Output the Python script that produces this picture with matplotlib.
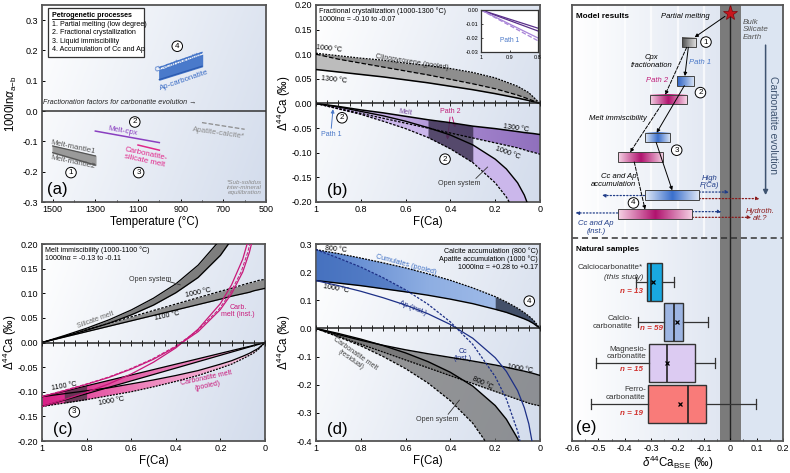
import numpy as np
import matplotlib
matplotlib.use('Agg')
import matplotlib.pyplot as plt
from matplotlib.colors import LinearSegmentedColormap
from matplotlib.path import Path
from matplotlib.patches import Rectangle, FancyBboxPatch
from matplotlib.lines import Line2D
import matplotlib.transforms as mtransforms

plt.rcParams['font.family'] = ['Liberation Sans', 'DejaVu Sans']
plt.rcParams['mathtext.fontset'] = 'custom'
plt.rcParams['mathtext.rm'] = 'Liberation Sans'
plt.rcParams['mathtext.it'] = 'Liberation Sans:italic'
plt.rcParams['mathtext.bf'] = 'Liberation Sans:bold'

# ---------------- DATA ----------------
# (a) fractionation factors vs temperature
a_T_mantle = [1500, 1300]
a_mantle1 = [-0.115, -0.148]
a_mantle2 = [-0.137, -0.178]
a_T_cpx = [1300, 1000]
a_melt_cpx = [-0.066, -0.104]
a_T_carbsil = [1100, 1000]
a_carbsil = [-0.112, -0.129]
a_T_apcc = [800, 600]
a_apcc = [-0.038, -0.060]
a_T_carb = [1000, 800]
a_cc_carb = [0.137, 0.187]
a_ap_carb = [0.104, 0.148]

# (b) fractional crystallization
b_F_top = [1.0, 0.9, 0.8, 0.7, 0.6, 0.5, 0.4, 0.3, 0.2, 0.1, 0.05, 0.0]
b_cpx_1000 = [0.102, 0.097, 0.092, 0.088, 0.082, 0.077, 0.071, 0.063, 0.052, 0.035, 0.022, 0.0]
b_cpx_mid = [0.100, 0.090, 0.082, 0.074, 0.066, 0.058, 0.049, 0.040, 0.030, 0.017, 0.009, 0.0]
b_cpx_1300 = [0.069, 0.064, 0.059, 0.054, 0.048, 0.042, 0.035, 0.028, 0.020, 0.011, 0.006, 0.0]
b_F = [1.0, 0.9, 0.8, 0.7, 0.6, 0.5, 0.4, 0.3, 0.2, 0.15, 0.1, 0.07, 0.05, 0.03, 0.0]
b_melt_1300 = [0, -0.006, -0.013, -0.019, -0.026, -0.033, -0.039, -0.046, -0.051, -0.054, -0.057, -0.059, -0.060, -0.061, -0.063]
b_melt_1000 = [0, -0.010, -0.020, -0.030, -0.040, -0.050, -0.060, -0.070, -0.080, -0.085, -0.090, -0.094, -0.097, -0.099, -0.103]
b_open_1300 = [0, -0.007, -0.016, -0.025, -0.036, -0.049, -0.064, -0.084, -0.113, -0.133, -0.161, -0.186, -0.210, -0.245, -0.400]
b_open_1000 = [0, -0.011, -0.022, -0.036, -0.051, -0.069, -0.092, -0.120, -0.161, -0.190, -0.230, -0.266, -0.300, -0.351, -0.600]
b_in_F = [1.0, 0.9, 0.8]
b_in_melt_a = [0, -0.0065, -0.013]
b_in_melt_b = [0, -0.0075, -0.015]
b_in_open_a = [0, -0.0100, -0.020]
b_in_open_b = [0, -0.0110, -0.022]

# (c) melt immiscibility
c_F = [1.0, 0.9, 0.8, 0.7, 0.6, 0.5, 0.4, 0.3, 0.2, 0.15, 0.1, 0.07, 0.05, 0.03, 0.0]
c_sil_batch_1000 = [0, 0.013, 0.026, 0.039, 0.052, 0.065, 0.078, 0.091, 0.104, 0.110, 0.117, 0.121, 0.123, 0.126, 0.128]
c_sil_batch_1100 = [0, 0.011, 0.022, 0.033, 0.044, 0.055, 0.066, 0.077, 0.088, 0.094, 0.099, 0.102, 0.105, 0.107, 0.110]
c_sil_open_1000 = [0, 0.014, 0.029, 0.046, 0.066, 0.090, 0.119, 0.157, 0.209, 0.247, 0.299, 0.346, 0.389, 0.456, 0.800]
c_sil_open_1100 = [0, 0.012, 0.025, 0.039, 0.056, 0.076, 0.101, 0.132, 0.177, 0.209, 0.253, 0.293, 0.330, 0.386, 0.700]
c_carb_inst_1000 = [-0.130, -0.116, -0.101, -0.084, -0.064, -0.040, -0.011, 0.027, 0.079, 0.117, 0.169, 0.216, 0.259, 0.326, 0.700]
c_carb_inst_1100 = [-0.110, -0.098, -0.085, -0.071, -0.054, -0.034, -0.009, 0.022, 0.067, 0.099, 0.143, 0.183, 0.220, 0.276, 0.600]
c_carb_batch_1000 = [-0.130, -0.117, -0.104, -0.091, -0.078, -0.065, -0.052, -0.039, -0.026, -0.0195, -0.013, -0.009, -0.0065, -0.004, 0]
c_carb_batch_1100 = [-0.110, -0.099, -0.088, -0.077, -0.066, -0.055, -0.044, -0.033, -0.022, -0.0165, -0.011, -0.008, -0.0055, -0.003, 0]
c_carb_pool_1000 = [-0.130, -0.123, -0.116, -0.108, -0.100, -0.090, -0.079, -0.067, -0.052, -0.044, -0.033, -0.026, -0.021, -0.014, 0]
c_carb_pool_1100 = [-0.110, -0.104, -0.098, -0.092, -0.084, -0.076, -0.067, -0.057, -0.044, -0.037, -0.028, -0.022, -0.017, -0.012, 0]

# (d) calcite / apatite accumulation
d_F = [1.0, 0.9, 0.8, 0.7, 0.6, 0.5, 0.4, 0.3, 0.2, 0.15, 0.1, 0.07, 0.05, 0.03, 0.0]
d_cum_800 = [0.280, 0.266, 0.250, 0.233, 0.215, 0.194, 0.171, 0.144, 0.113, 0.094, 0.072, 0.056, 0.044, 0.030, 0]
d_cum_1000 = [0.170, 0.161, 0.152, 0.141, 0.130, 0.118, 0.104, 0.088, 0.068, 0.057, 0.043, 0.034, 0.027, 0.018, 0]
d_cc_inst = [0.280, 0.250, 0.218, 0.180, 0.137, 0.086, 0.023, -0.057, -0.171, -0.251, -0.365, -0.465, -0.559, -0.702, -1.5]
d_ap_inst = [0.170, 0.152, 0.132, 0.109, 0.083, 0.052, 0.014, -0.035, -0.104, -0.153, -0.221, -0.282, -0.339, -0.426, -1.0]
d_res_1000 = [0, -0.022, -0.042, -0.060, -0.076, -0.090, -0.103, -0.116, -0.130, -0.138, -0.147, -0.152, -0.156, -0.160, -0.167]
d_res_800 = [0, -0.028, -0.056, -0.084, -0.112, -0.140, -0.168, -0.196, -0.224, -0.238, -0.252, -0.260, -0.266, -0.270, -0.275]
d_open_1000 = [0, -0.018, -0.038, -0.061, -0.087, -0.118, -0.156, -0.205, -0.274, -0.323, -0.391, -0.452, -0.509, -0.596, -1.5]
d_open_800 = [0, -0.030, -0.062, -0.100, -0.143, -0.194, -0.257, -0.337, -0.451, -0.531, -0.645, -0.745, -0.839, -0.982, -2.0]

# (e) model results (delta44Ca_BSE ranges)
e_box_lo = [-0.182, -0.203, -0.304, -0.325, -0.427, -0.325, -0.427]
e_box_hi = [-0.130, -0.138, -0.165, -0.227, -0.256, -0.118, -0.144]
e_box_y = [91.4, 82.6, 78.3, 69.6, 65.1, 56.4, 52.0]
e_box_kind = ['gray', 'blue0', 'pink', 'blue', 'pink', 'blue', 'pink']
e_p1_x0 = [-0.159, -0.174, -0.281]
e_p1_y0 = [90.3, 81.5, 68.5]
e_p1_x1 = [-0.172, -0.279, -0.220]
e_p1_y1 = [83.7, 70.7, 57.5]
e_p2_x0 = [-0.165, -0.260, -0.364]
e_p2_y0 = [90.3, 77.2, 64.0]
e_p2_x1 = [-0.247, -0.380, -0.323]
e_p2_y1 = [79.4, 66.2, 53.1]
# (e) natural samples
e_labels = ['Calciocarbonatite*', 'Calcio-\ncarbonatite', 'Magnesio-\ncarbonatite', 'Ferro-\ncarbonatite']
e_n = [13, 59, 15, 19]
e_pos = [36.5, 27.3, 17.9, 8.5]
e_q1 = [-0.314, -0.250, -0.307, -0.310]
e_med = [-0.300, -0.213, -0.241, -0.162]
e_q3 = [-0.260, -0.180, -0.134, -0.091]
e_mean = [-0.294, -0.203, -0.241, -0.191]
e_whislo = [-0.357, -0.348, -0.508, -0.528]
e_whishi = [-0.213, -0.084, -0.056, 0.097]
e_colors = ['#19a9e1', '#9db5e2', '#dccbf2', '#f97b79']

# ---------------- HELPERS ----------------
W, H = 790, 473
fig = plt.figure(figsize=(7.9, 4.73), dpi=100)


def add_ax(l, t, r, b):
    return fig.add_axes([l / W, 1 - b / H, (r - l) / W, (b - t) / H])


bg_cmap = LinearSegmentedColormap.from_list('bg', ['#ffffff', '#d3dcec'])
TS = 6.5   # tick size
AS = 5.1   # annotation size
LS = 8.3   # axis label size
PL = 12    # panel label size
YLX = -0.102  # y-label x position (axes fraction, right edge of rotated label)


def background(ax, vert=0.25):
    x0, x1 = ax.get_xlim(); y0, y1 = ax.get_ylim()
    gx = np.linspace(0, 1, 200)[None, :]
    gy = np.linspace(0, 1, 100)[:, None]
    g = (1 - vert) * gx + vert * gy
    ax.imshow(g, extent=[x0, x1, y0, y1], cmap=bg_cmap, aspect='auto',
              origin='upper', zorder=0, interpolation='bilinear')
    ax.set_xlim(x0, x1); ax.set_ylim(y0, y1)


def grad_fill(ax, x, y1, y2, colors, where=None, z=2, alpha=1.0):
    x0, x1 = ax.get_xlim(); ya, yb = ax.get_ylim()
    pc = ax.fill_between(x, y1, y2, where=where, interpolate=True,
                         facecolor='none', edgecolor='none', zorder=z)
    paths = pc.get_paths()
    if len(paths) == 0:
        return
    path = Path.make_compound_path(*paths)
    cmap = LinearSegmentedColormap.from_list('gf', colors)
    im = ax.imshow(np.linspace(0, 1, 256)[None, :], extent=[x0, x1, ya, yb],
                   cmap=cmap, aspect='auto', zorder=z, alpha=alpha,
                   interpolation='bilinear')
    im.set_clip_path(path, transform=ax.transData)
    ax.set_xlim(x0, x1); ax.set_ylim(ya, yb)


def circ(ax, x, y, s, fs=5.8):
    ax.text(x, y, s, ha='center', va='center', fontsize=fs, zorder=20,
            bbox=dict(boxstyle='circle,pad=0.22', fc='white', ec='black', lw=0.7))


def style(ax):
    for sp in ax.spines.values():
        sp.set_color('#555555'); sp.set_linewidth(1.3)
    ax.tick_params(direction='in', length=2.5, width=0.7, labelsize=TS, pad=2.5)


def zero_line(ax):
    ax.axhline(0, color='#222222', lw=1.1, zorder=8)
    ax.plot(np.arange(0, 1.0001, 0.05), np.zeros(21), ls='none', marker='|',
            ms=4, mew=0.7, color='#222222', zorder=8)


def fca_axes(ax):
    ax.set_xticks([1, 0.8, 0.6, 0.4, 0.2, 0], ['1', '0.8', '0.6', '0.4', '0.2', '0'])
    ax.set_xlabel('F(Ca)', fontsize=LS, labelpad=1)
    ax.set_ylabel(r'$\Delta^{44}$Ca (‰)', fontsize=LS)
    ax.yaxis.set_label_coords(YLX, 0.5)


# ---------------- PANEL (a) ----------------
axA = add_ax(42, 5, 266, 202)
axA.set_xlim(1550, 500); axA.set_ylim(-0.3, 0.35)
background(axA)
style(axA)
axA.axhline(0, color='#333333', lw=1.1, zorder=3)
axA.fill_between(a_T_mantle, a_mantle2, a_mantle1, color='#9a9a9a', zorder=2)
axA.plot(a_T_mantle, a_mantle1, color='#555555', lw=0.9, zorder=3)
axA.plot(a_T_mantle, a_mantle2, color='#555555', lw=0.9, zorder=3)
axA.plot(a_T_cpx, a_melt_cpx, color='#8a3fc0', lw=1.1, zorder=3)
axA.plot(a_T_carbsil, a_carbsil, color='#e0288a', lw=1.1, zorder=3)
axA.plot(a_T_apcc, a_apcc, color='#8a8a8a', lw=0.9, ls='--', zorder=3)
axA.fill_between(a_T_carb, a_ap_carb, a_cc_carb, color='#4a7acb', zorder=2)
axA.plot(a_T_carb, a_cc_carb, color='white', lw=1.0, zorder=3)
axA.plot(a_T_carb, a_ap_carb, color='#2c5bb0', lw=0.9, zorder=3)
off = mtransforms.offset_copy(axA.transData, fig=fig, x=0, y=1.4, units='points')
axA.plot(a_T_carb, a_cc_carb, color='#4a7acb', lw=1.0, zorder=3, transform=off)

axA.text(908, 0.160, 'Cc-carbonatite', color='#3a6cc4', fontsize=AS + 0.6, rotation=19,
         ha='center', va='center')
axA.text(885, 0.101, 'Ap-carbonatite', color='#3a6cc4', fontsize=AS + 0.6, rotation=19,
         ha='center', va='center')
axA.text(1407, -0.119, 'Melt-mantle1', color='#555555', fontsize=AS + 0.6, rotation=-12,
         ha='center', va='center')
axA.text(1407, -0.170, 'Melt-mantle2', color='#555555', fontsize=AS + 0.6, rotation=-12,
         ha='center', va='center')
axA.text(1172, -0.066, 'Melt-cpx', color='#8a3fc0', fontsize=AS + 0.6, rotation=-10,
         ha='center', va='center')
axA.text(1065, -0.152, 'Carbonatite-\nsilicate melt', color='#e0288a', fontsize=AS + 0.6,
         rotation=-12, ha='center', va='center', linespacing=1.0)
axA.text(720, -0.072, 'Apatite-calcite*', color='#8a8a8a', fontsize=AS + 0.6, rotation=-8,
         ha='center', va='center')
axA.text(1544, 0.027, 'Fractionation factors for carbonatite evolution →', style='italic',
         fontsize=AS, ha='left', va='center', color='#222222')
axA.text(522, -0.253, '*Sub-solidus\ninter-mineral\nequilibration', style='italic',
         fontsize=AS - 0.6, color='#8a8a8a', ha='right', va='center', linespacing=1.0,
         multialignment='right')
axA.text(1525, -0.260, '(a)', fontsize=PL, ha='left', va='center')
circ(axA, 916, 0.214, '4')
circ(axA, 1115, -0.036, '2')
circ(axA, 1097, -0.203, '3')
circ(axA, 1414, -0.203, '1')
# legend box
axA.add_patch(FancyBboxPatch((0.028, 0.735), 0.428, 0.25, boxstyle='square,pad=0',
                             transform=axA.transAxes, fc='white', ec='#333333', lw=0.9, zorder=10))
axA.text(0.045, 0.948, 'Petrogenetic processes', transform=axA.transAxes, fontsize=AS,
         fontweight='bold', va='center', zorder=11)
axA.add_line(Line2D([0.045, 0.345], [0.927, 0.927], transform=axA.transAxes, color='k',
                    lw=0.6, zorder=11))
for i, s in enumerate(['1. Partial melting (low degree)', '2. Fractional crystallization',
                       '3. Liquid immiscibility', '4. Accumulation of Cc and Ap']):
    axA.text(0.045, 0.903 - i * 0.043, s, transform=axA.transAxes, fontsize=AS,
             va='center', zorder=11)
axA.set_xticks([1500, 1300, 1100, 900, 700, 500])
axA.set_xticks([1400, 1200, 1000, 800, 600], minor=True)
axA.tick_params(which='minor', direction='in', length=1.5)
axA.set_yticks([0.3, 0.2, 0.1, 0.0, -0.1, -0.2, -0.3],
               ['0.3', '0.2', '0.1', '0.0', '-0.1', '-0.2', '-0.3'])
axA.set_xlabel('Temperature (°C)', fontsize=LS, labelpad=1)
axA.set_ylabel(r'1000ln$\alpha_{\mathrm{a\!-\!b}}$', fontsize=LS)
axA.yaxis.set_label_coords(YLX, 0.5)

# ---------------- PANEL (b) ----------------
axB = add_ax(316, 5, 540, 202)
axB.set_xlim(1, 0); axB.set_ylim(-0.2, 0.2)
background(axB)
style(axB)
bF = np.array(b_F)
axB.fill_between(b_F_top, b_cpx_mid, b_cpx_1000, color='#8e8e8e', lw=0, zorder=2)
axB.fill_between(b_F_top, b_cpx_1300, b_cpx_mid, color='#bcbcbc', lw=0, zorder=2)
axB.plot(b_F_top, b_cpx_1000, color='k', lw=0.9, ls=(0, (1.5, 1)), zorder=5)
axB.plot(b_F_top, b_cpx_mid, color='k', lw=0.9, ls='--', zorder=5)
axB.plot(b_F_top, b_cpx_1300, color='k', lw=1.1, zorder=5)
grad_fill(axB, b_F, b_melt_1000, b_melt_1300, ['#cbb6ea', '#c6b0e6', '#a283cc', '#9070bd'], z=2)
axB.fill_between(b_F, b_open_1000, b_open_1300, color='#cbb7eb', lw=0, zorder=2.5)
axB.fill_between(b_F, b_open_1000, b_melt_1300, where=(bF <= 0.5) & (bF >= 0.3),
                 color='#3b3150', alpha=0.82, lw=0, zorder=4)
axB.plot(b_F, b_melt_1300, color='k', lw=1.1, zorder=5)
axB.plot(b_F, b_melt_1000, color='k', lw=0.9, ls=(0, (2, 1.2)), zorder=5)
axB.plot(b_F, b_open_1300, color='k', lw=1.0, zorder=5)
axB.plot(b_F, b_open_1000, color='k', lw=0.9, ls=(0, (2, 1.2)), zorder=5)
zero_line(axB)
axB.set_yticks([0.2, 0.15, 0.1, 0.05, 0, -0.05, -0.1, -0.15, -0.2],
               ['0.20', '0.15', '0.10', '0.05', '0.00', '-0.05', '-0.10', '-0.15', '-0.20'])
fca_axes(axB)
axB.text(0.985, 0.195, 'Fractional crystallization (1000-1300 °C)\n1000lnα = -0.10 to -0.07',
         fontsize=AS, va='top', ha='left', linespacing=1.2)
axB.text(0.94, 0.111, '1000 °C', fontsize=AS, rotation=-6, ha='center', va='center')
axB.text(0.92, 0.048, '1300 °C', fontsize=AS, rotation=-6, ha='center', va='center')
axB.text(0.57, 0.084, 'Clinopyroxene (pooled)', fontsize=AS, rotation=-9, ha='center',
         va='center', color='#333333')
axB.text(0.60, -0.018, 'Melt', fontsize=AS, rotation=-8, ha='center', va='center', color='#7a4aa0')
axB.text(0.107, -0.051, '1300 °C', fontsize=AS, rotation=-8, ha='center', va='center')
axB.text(0.144, -0.100, '1000 °C', fontsize=AS, rotation=-20, ha='center', va='center')
axB.text(0.40, -0.016, 'Path 2', fontsize=AS, ha='center', va='center', color='#c0207a')
axB.annotate('', xy=(0.415, -0.079), xytext=(0.40, -0.022),
             arrowprops=dict(arrowstyle='-|>', color='#c0207a', lw=0.7, mutation_scale=5))
axB.annotate('', xy=(0.375, -0.054), xytext=(0.395, -0.022),
             arrowprops=dict(arrowstyle='-|>', color='#c0207a', lw=0.7, mutation_scale=5))
axB.text(0.933, -0.062, 'Path 1', fontsize=AS, ha='center', va='center', color='#4a78c8')
axB.annotate('', xy=(0.923, -0.006), xytext=(0.933, -0.056),
             arrowprops=dict(arrowstyle='-|>', color='#4a78c8', lw=0.7, mutation_scale=5))
axB.text(0.36, -0.163, 'Open system', fontsize=AS, ha='center', va='center', color='#333333')
axB.plot([0.286, 0.234], [-0.152, -0.129], color='#333333', lw=0.6, zorder=9)
circ(axB, 0.884, -0.029, '2')
circ(axB, 0.424, -0.113, '2')
axB.text(0.95, -0.176, '(b)', fontsize=PL, ha='left', va='center')

# inset
axIn = add_ax(481, 10, 538, 52)
axIn.set_xlim(1, 0.8); axIn.set_ylim(-0.03, 0.0)
axIn.set_facecolor('white')
for sp in axIn.spines.values():
    sp.set_color('#333333'); sp.set_linewidth(0.9)
axIn.plot(b_in_F, b_in_melt_a, color='#5a2f8a', lw=0.9)
axIn.plot(b_in_F, b_in_melt_b, color='#5a2f8a', lw=0.9)
axIn.plot(b_in_F, b_in_open_a, color='#a884d8', lw=0.9)
axIn.plot(b_in_F, b_in_open_b, color='#a884d8', lw=0.9, ls='--')
axIn.set_xticks([1, 0.9, 0.8], ['1', '0.9', '0.8'])
axIn.set_yticks([0, -0.01, -0.02, -0.03], ['0.00', '-0.01', '-0.02', '-0.03'])
axIn.tick_params(direction='in', length=1.5, width=0.5, labelsize=4.0, pad=2)
axIn.text(0.9, -0.022, 'Path 1', fontsize=AS - 0.3, color='#4a78c8', ha='center', va='center')

# ---------------- PANEL (c) ----------------
axC = add_ax(42, 244, 265, 441)
axC.set_xlim(1, 0); axC.set_ylim(-0.2, 0.2)
background(axC)
style(axC)
cF = np.array(c_F)
axC.fill_between(c_F, c_sil_open_1100, c_sil_open_1000, color='#7e7e7e', lw=0, zorder=2)
axC.fill_between(c_F, c_sil_batch_1100, c_sil_batch_1000, color='#8c8c8c', lw=0, zorder=2)
axC.plot(c_F, c_sil_open_1000, color='k', lw=0.9, zorder=5)
axC.plot(c_F, c_sil_open_1100, color='k', lw=0.9, zorder=5)
axC.plot(c_F, c_sil_batch_1000, color='k', lw=0.9, ls=(0, (2, 1.2)), zorder=5)
axC.plot(c_F, c_sil_batch_1100, color='k', lw=0.9, zorder=5)
grad_fill(axC, c_F, c_carb_pool_1000, c_carb_pool_1100, ['#de2c8e', '#ef8cc0', '#f8cde3'], z=2)
grad_fill(axC, c_F, c_carb_batch_1000, c_carb_batch_1100, ['#d81f86', '#e772b2', '#eba0c8'], z=2.2)
axC.fill_between(c_F, c_carb_pool_1000, c_carb_batch_1100, where=(cF <= 0.9) & (cF >= 0.8),
                 color='#3e3540', alpha=0.72, lw=0, zorder=4)
axC.plot(c_F, c_carb_pool_1000, color='k', lw=0.9, ls=(0, (1.5, 1)), zorder=5)
axC.plot(c_F, c_carb_pool_1100, color='k', lw=0.9, zorder=5)
axC.plot(c_F, c_carb_batch_1000, color='k', lw=0.9, zorder=5)
axC.plot(c_F, c_carb_batch_1100, color='k', lw=0.9, zorder=5)
axC.plot(c_F, c_carb_inst_1000, color='#c8197a', lw=0.9, zorder=6)
axC.plot(c_F, c_carb_inst_1100, color='#c8197a', lw=0.9, zorder=6)
axC.plot(c_F, c_carb_inst_1100, color='#c8197a', lw=0.7, ls='--', zorder=6,
         transform=mtransforms.offset_copy(axC.transData, fig=fig, x=-1.2, y=0, units='points'))
zero_line(axC)
axC.set_yticks([0.2, 0.15, 0.1, 0.05, 0, -0.05, -0.1, -0.15, -0.2],
               ['0.20', '0.15', '0.10', '0.05', '0.00', '-0.05', '-0.10', '-0.15', '-0.20'])
fca_axes(axC)
axC.text(0.985, 0.195, 'Melt immiscibility (1000-1100 °C)\n1000lnα = -0.13 to -0.11',
         fontsize=AS, va='top', ha='left', linespacing=1.2)
axC.text(0.515, 0.127, 'Open system', fontsize=AS, ha='center', va='center', color='#333333')
axC.plot([0.44, 0.38], [0.125, 0.117], color='#333333', lw=0.6, zorder=9)
axC.text(0.30, 0.101, '1000 °C', fontsize=AS, rotation=12, ha='center', va='center')
axC.text(0.44, 0.055, '1100 °C', fontsize=AS, rotation=12, ha='center', va='center')
axC.text(0.76, 0.045, 'Silicate melt', fontsize=AS, rotation=20, ha='center', va='center',
         color='#666666')
axC.text(0.12, 0.064, 'Carb.\nmelt (inst.)', fontsize=AS, ha='center', va='center',
         color='#c8197a', linespacing=1.1)
axC.text(0.90, -0.088, '1100 °C', fontsize=AS, rotation=10, ha='center', va='center')
axC.text(0.69, -0.119, '1000 °C', fontsize=AS, rotation=10, ha='center', va='center')
axC.text(0.26, -0.080, 'Carbonatite melt\n(pooled)', fontsize=AS, rotation=12, ha='center',
         va='center', color='#c8197a', linespacing=1.1)
circ(axC, 0.855, -0.141, '3')
axC.text(0.95, -0.176, '(c)', fontsize=PL, ha='left', va='center')

# ---------------- PANEL (d) ----------------
axD = add_ax(316, 244, 540, 441)
axD.set_xlim(1, 0); axD.set_ylim(-0.4, 0.3)
background(axD)
style(axD)
dF = np.array(d_F)
dcc = np.array(d_cc_inst); dc1000 = np.array(d_cum_1000)
grad_fill(axD, d_F, d_cum_1000, d_cum_800, ['#5580cc', '#8eaee2', '#a9c2ec'], where=dF >= 0.2, z=2)
axD.fill_between(d_F, d_cum_1000, d_cum_800, where=dF <= 0.2, color='#435069', lw=0, zorder=2)
axD.fill_between(d_F, d_cum_1000, d_cc_inst, where=dcc > dc1000, interpolate=True,
                 color='#3a66b6', alpha=0.55, lw=0, zorder=3)
axD.plot(d_F, d_cum_800, color='k', lw=0.9, ls=(0, (1.5, 1)), zorder=5)
axD.plot(d_F, d_cum_1000, color='k', lw=1.0, zorder=5)
axD.fill_between(d_F, d_open_800, d_open_1000, color='#6e6e6e', alpha=0.7, lw=0, zorder=2)
axD.fill_between(d_F, d_res_800, d_res_1000, color='#6e6e6e', alpha=0.7, lw=0, zorder=2)
axD.plot(d_F, d_res_1000, color='k', lw=1.0, zorder=5)
axD.plot(d_F, d_res_800, color='k', lw=0.9, ls=(0, (1.5, 1)), zorder=5)
axD.plot(d_F, d_open_1000, color='k', lw=1.0, zorder=5)
axD.plot(d_F, d_open_800, color='k', lw=0.9, ls=(0, (2, 1.2)), zorder=5)
axD.plot(d_F, d_cc_inst, color='#1c2f86', lw=0.9, ls=(0, (2, 1.2)), zorder=6)
axD.plot(d_F, d_ap_inst, color='#1c2f86', lw=0.9, zorder=6)
zero_line(axD)
axD.set_yticks([0.3, 0.2, 0.1, 0.0, -0.1, -0.2, -0.3, -0.4],
               ['0.3', '0.2', '0.1', '0.0', '-0.1', '-0.2', '-0.3', '-0.4'])
fca_axes(axD)
axD.text(0.01, 0.29, 'Calcite accumulation (800 °C)\nApatite accumulation (1000 °C)\n1000lnα = +0.28 to +0.17',
         fontsize=AS, va='top', ha='right', linespacing=1.2, multialignment='right')
axD.text(0.91, 0.282, '800 °C', fontsize=AS, rotation=-5, ha='center', va='center')
axD.text(0.91, 0.141, '1000 °C', fontsize=AS, rotation=-10, ha='center', va='center')
axD.text(0.60, 0.227, 'Cumulates (pooled)', fontsize=AS, rotation=-15, ha='center', va='center',
         color='#3d6fc4')
axD.text(0.57, 0.071, 'Ap (inst.)', fontsize=AS, rotation=-22, ha='center', va='center', color='#1c2f86')
axD.text(0.345, -0.095, 'Cc\n(inst.)', fontsize=AS, ha='center', va='center', color='#1c2f86',
         linespacing=1.1)
axD.text(0.09, -0.142, '1000 °C', fontsize=AS, rotation=-10, ha='center', va='center')
axD.text(0.256, -0.195, '800 °C', fontsize=AS, rotation=-25, ha='center', va='center')
axD.text(0.836, -0.10, 'Carbonatite melt\n(residual)', fontsize=AS, rotation=-35, ha='center',
         va='center', color='#444444', linespacing=1.1)
axD.text(0.457, -0.322, 'Open system', fontsize=AS, ha='center', va='center', color='#333333')
axD.plot([0.41, 0.36], [-0.305, -0.255], color='#333333', lw=0.6, zorder=9)
circ(axD, 0.048, 0.097, '4')
axD.text(0.95, -0.36, '(d)', fontsize=PL, ha='left', va='center')

# ---------------- PANEL (e) ----------------
axE = add_ax(572, 5, 783, 441)
axE.set_xlim(-0.6, 0.2); axE.set_ylim(0, 100)
background(axE, vert=0.0)
for sp in axE.spines.values():
    sp.set_color('#555555'); sp.set_linewidth(1.3)
axE.axvspan(0.04, 0.2, color='#dce5f2', lw=0, zorder=0.5)
for xv in [-0.5, -0.4, -0.3, -0.2, -0.1]:
    axE.axvline(xv, ymin=0.466, ymax=1, color='white', lw=1.6, alpha=0.7, zorder=0.6)
axE.axvspan(-0.04, 0.04, color='#7b7b7b', lw=0, zorder=1)
axE.axvline(0, color='#222222', lw=1.0, zorder=1.5)
axE.axhline(46.6, color='#333333', lw=1.1, ls=(0, (4, 2.5)), zorder=2)
axE.set_yticks([])
axE.set_xticks([-0.6, -0.5, -0.4, -0.3, -0.2, -0.1, 0, 0.1, 0.2],
               ['-0.6', '-0.5', '-0.4', '-0.3', '-0.2', '-0.1', '0', '0.1', '0.2'])
axE.set_xticks(np.arange(-0.55, 0.2, 0.1), minor=True)
axE.tick_params(direction='in', length=2.5, width=0.7, labelsize=TS, pad=2.5)
axE.tick_params(which='minor', direction='in', length=1.5, width=0.6)
axE.set_xlabel(r'$\delta^{44}$Ca$_{\mathrm{BSE}}$ (‰)', fontsize=LS, labelpad=0)

box_cols = {'gray': ['#4a4a4a', '#9a9a9a', '#dcdcdc'],
            'blue0': ['#2d62c4', '#7ea0dc', '#e2eaf7'],
            'blue': ['#e2eaf7', '#3a6fcc', '#e2eaf7'],
            'pink': ['#f6d3e5', '#b0126e', '#f6d3e5']}
bh = 2.2
for lo, hi, yc, k in zip(e_box_lo, e_box_hi, e_box_y, e_box_kind):
    cm = LinearSegmentedColormap.from_list('bx', box_cols[k])
    axE.imshow(np.linspace(0, 1, 128)[None, :], extent=[lo, hi, yc - bh / 2, yc + bh / 2],
               cmap=cm, aspect='auto', zorder=5, interpolation='bilinear')
    axE.add_patch(Rectangle((lo, yc - bh / 2), hi - lo, bh, fill=False, ec='#444444', lw=0.7, zorder=6))
axE.set_xlim(-0.6, 0.2); axE.set_ylim(0, 100)

for x0, y0, x1, y1 in zip(e_p1_x0, e_p1_y0, e_p1_x1, e_p1_y1):
    axE.annotate('', xy=(x1, y1), xytext=(x0, y0),
                 arrowprops=dict(arrowstyle='-|>', color='k', lw=0.7, mutation_scale=5,
                                 shrinkA=0, shrinkB=0), zorder=7)
for x0, y0, x1, y1 in zip(e_p2_x0, e_p2_y0, e_p2_x1, e_p2_y1):
    axE.annotate('', xy=(x1, y1), xytext=(x0, y0),
                 arrowprops=dict(arrowstyle='-|>', color='k', lw=0.7, ls='--', mutation_scale=5,
                                 shrinkA=0, shrinkB=0), zorder=7)

# star and partial melting
axE.plot([0], [98.1], marker='*', ms=11, color='#c8161d', mec='#7a0a0e', mew=0.5, zorder=9,
         clip_on=False)
axE.annotate('', xy=(-0.135, 92.6), xytext=(-0.02, 97.4),
             arrowprops=dict(arrowstyle='-|>', color='k', lw=0.7, mutation_scale=5, shrinkA=0, shrinkB=0))
navy = '#1f3c88'
dred = '#8b1a1a'
accum = [(-0.325, -0.487, 56.3, navy), (-0.118, -0.004, 57.1, navy), (-0.118, 0.112, 55.6, dred),
         (-0.427, -0.587, 52.3, navy), (-0.144, -0.033, 52.6, navy), (-0.144, 0.080, 51.3, dred)]
for xs, xe, yy, cc in accum:
    axE.annotate('', xy=(xe, yy), xytext=(xs, yy),
                 arrowprops=dict(arrowstyle='-|>', color=cc, lw=0.9, ls=':', mutation_scale=5,
                                 shrinkA=0, shrinkB=0), zorder=4)

ef = AS + 0.4
axE.text(-0.585, 97.4, 'Model results', fontsize=5.9, fontweight='bold', ha='left', va='center')
axE.text(-0.08, 97.3, 'Partial melting', fontsize=ef, style='italic', ha='right', va='center')
axE.text(0.048, 94.3, 'Bulk\nSilicate\nEarth', fontsize=ef + 0.3, style='italic', ha='left', va='center',
         color='#555555', linespacing=1.15)
axE.text(-0.298, 87.0, 'Cpx\nfractionation', fontsize=ef, style='italic', ha='center', va='center',
         linespacing=1.1)
axE.text(-0.115, 86.8, 'Path 1', fontsize=ef, style='italic', ha='center', va='center', color='#4a78c8')
axE.text(-0.276, 82.6, 'Path 2', fontsize=ef, style='italic', ha='center', va='center', color='#c0207a')
axE.text(-0.317, 74.0, 'Melt immiscibility', fontsize=ef, style='italic', ha='right', va='center')
axE.text(-0.357, 59.8, 'Cc and Ap\naccumulation', fontsize=ef, style='italic', ha='right', va='center',
         linespacing=1.1, multialignment='right')
axE.text(-0.077, 59.4, 'High\nF(Ca)', fontsize=ef, style='italic', ha='center', va='center',
         color=navy, linespacing=1.1)
axE.text(0.112, 51.8, 'Hydroth.\nalt.?', fontsize=ef, style='italic', ha='center', va='center',
         color=dred, linespacing=1.1)
axE.text(-0.51, 49.0, 'Cc and Ap\n(inst.)', fontsize=ef, style='italic', ha='center', va='center',
         color=navy, linespacing=1.1)
circ(axE, -0.092, 91.5, '1')
circ(axE, -0.113, 79.9, '2')
circ(axE, -0.203, 66.7, '3')
circ(axE, -0.367, 54.6, '4')
axE.text(0.162, 72.4, 'Carbonatite evolution', fontsize=7.5, rotation=-90, ha='center', va='center',
         color='#3e5370')
axE.annotate('', xy=(0.134, 56.4), xytext=(0.134, 90.8),
             arrowprops=dict(arrowstyle='-|>', color='#3e5370', lw=1.1, mutation_scale=7,
                             shrinkA=0, shrinkB=0))

# natural samples boxplots
stats = []
for i in range(4):
    stats.append(dict(med=e_med[i], q1=e_q1[i], q3=e_q3[i], whislo=e_whislo[i],
                      whishi=e_whishi[i], mean=e_mean[i], fliers=[]))
bkw = dict(positions=e_pos, widths=8.6, patch_artist=True, showmeans=True, manage_ticks=False,
           boxprops=dict(edgecolor='#333333', lw=1.0),
           medianprops=dict(color='#222222', lw=1.2),
           whiskerprops=dict(color='#333333', lw=0.9),
           capprops=dict(color='#333333', lw=0.9),
           meanprops=dict(marker='x', markeredgecolor='k', markersize=2.5, mew=0.9),
           capwidths=2.2)
try:
    bp = axE.bxp(stats, orientation='horizontal', **bkw)
except TypeError:
    bp = axE.bxp(stats, vert=False, **bkw)
for patch, c in zip(bp['boxes'], e_colors):
    patch.set_facecolor(c)
    patch.set_zorder(3)
for k in ['medians', 'whiskers', 'caps', 'means']:
    for a in bp[k]:
        a.set_zorder(4)

red = '#d0312d'
axE.text(-0.585, 43.9, 'Natural samples', fontsize=5.9, fontweight='bold', ha='left', va='center')
es = 5.8
axE.text(-0.33, 39.9, 'Calciocarbonatite*', fontsize=es, ha='right', va='center', color='#333333')
axE.text(-0.33, 37.5, '(this study)', fontsize=es, style='italic', ha='right', va='center', color='#333333')
axE.text(-0.33, 34.2, 'n = %d' % e_n[0], fontsize=es, style='italic', fontweight='bold',
         ha='right', va='center', color=red)
axE.text(-0.37, 27.2, e_labels[1], fontsize=es, ha='right', va='center', color='#333333',
         linespacing=1.15, multialignment='right')
axE.text(-0.30, 25.7, 'n = %d' % e_n[1], fontsize=es, style='italic', fontweight='bold',
         ha='center', va='center', color=red)
axE.text(-0.317, 20.2, e_labels[2], fontsize=es, ha='right', va='center', color='#333333',
         linespacing=1.15, multialignment='right')
axE.text(-0.33, 16.5, 'n = %d' % e_n[2], fontsize=es, style='italic', fontweight='bold',
         ha='right', va='center', color=red)
axE.text(-0.32, 10.9, e_labels[3], fontsize=es, ha='right', va='center', color='#333333',
         linespacing=1.15, multialignment='right')
axE.text(-0.33, 6.4, 'n = %d' % e_n[3], fontsize=es, style='italic', fontweight='bold',
         ha='right', va='center', color=red)
axE.text(-0.585, 3.0, '(e)', fontsize=PL, ha='left', va='center')

fig.savefig('out.png', dpi=100)
